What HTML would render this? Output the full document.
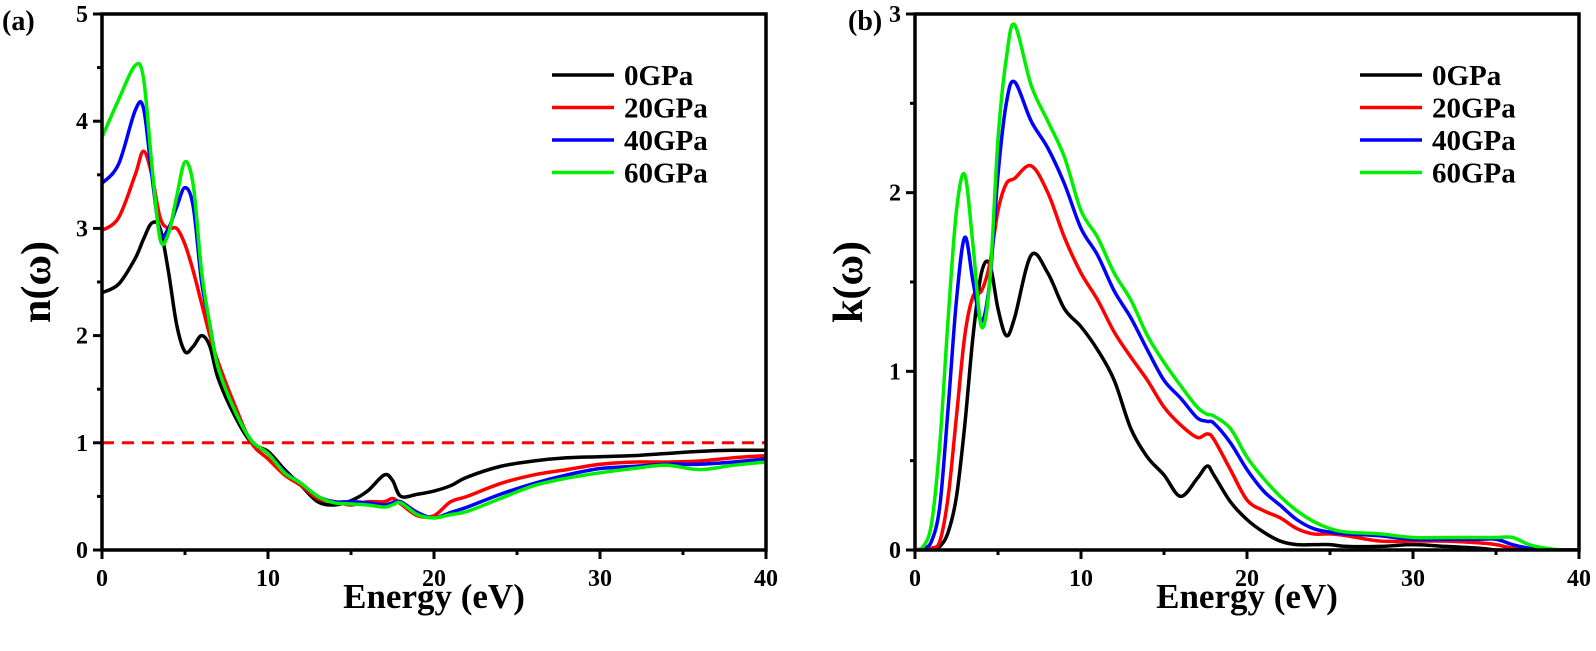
<!DOCTYPE html>
<html><head><meta charset="utf-8"><style>
html,body{margin:0;padding:0;background:#fff;}
svg text{font-family:"Liberation Serif",serif;font-weight:bold;fill:#000;}
</style></head><body>
<svg id="fig" width="1596" height="646" xmlns="http://www.w3.org/2000/svg"></svg>
<script>
const energyA=[0,1,2,2.5,3,3.5,4,4.5,5,5.5,6,6.5,7,8,9,10,11,12,13,14,15,16,17,17.5,18,19,20,21,22,24,26,28,30,32,34,36,38,40];
const n0=[2.4,2.48,2.72,2.9,3.05,3.0,2.6,2.1,1.85,1.9,2.0,1.9,1.6,1.25,1.0,0.92,0.75,0.6,0.45,0.42,0.46,0.55,0.7,0.65,0.5,0.52,0.55,0.6,0.68,0.78,0.83,0.86,0.87,0.88,0.9,0.92,0.93,0.93];
const n20=[2.98,3.1,3.5,3.72,3.5,3.1,3.0,3.0,2.85,2.6,2.3,2.0,1.75,1.35,1.0,0.85,0.7,0.6,0.48,0.45,0.42,0.45,0.45,0.48,0.43,0.32,0.32,0.45,0.5,0.62,0.7,0.75,0.8,0.82,0.82,0.83,0.86,0.88];
const n40=[3.42,3.6,4.1,4.12,3.5,2.95,3.0,3.2,3.38,3.2,2.5,2.1,1.7,1.3,1.02,0.9,0.73,0.62,0.5,0.45,0.45,0.44,0.42,0.44,0.45,0.35,0.3,0.35,0.4,0.52,0.62,0.7,0.76,0.78,0.8,0.8,0.82,0.85];
const n60=[3.85,4.2,4.52,4.4,3.6,2.9,2.95,3.3,3.62,3.4,2.6,2.1,1.7,1.3,1.02,0.9,0.72,0.62,0.5,0.44,0.43,0.42,0.4,0.42,0.44,0.33,0.3,0.33,0.36,0.48,0.6,0.67,0.72,0.76,0.79,0.75,0.79,0.82];
const energyB=[0,0.5,1,1.5,2,2.5,3,3.5,4,4.5,5,5.5,6,7,8,9,10,11,12,13,14,15,16,17,17.6,18,19,20,21,22,23,24,25,26,28,30,32,34,35,36,37,38,39,40];
const k0=[0,0,0,0.02,0.1,0.3,0.7,1.2,1.55,1.6,1.35,1.2,1.3,1.65,1.55,1.35,1.25,1.12,0.95,0.68,0.52,0.42,0.3,0.4,0.47,0.42,0.27,0.17,0.1,0.05,0.03,0.03,0.03,0.02,0.02,0.03,0.02,0.01,0,0,0,0,0,0];
const k20=[0,0,0.01,0.05,0.3,0.75,1.2,1.42,1.45,1.6,1.9,2.05,2.08,2.15,2.0,1.75,1.55,1.4,1.22,1.08,0.95,0.8,0.7,0.63,0.65,0.62,0.45,0.28,0.22,0.18,0.12,0.09,0.09,0.08,0.05,0.05,0.05,0.04,0.03,0.01,0,0,0,0];
const k40=[0,0.01,0.05,0.25,0.8,1.4,1.75,1.5,1.28,1.5,2.1,2.5,2.62,2.4,2.25,2.05,1.8,1.65,1.45,1.3,1.12,0.95,0.85,0.74,0.72,0.71,0.6,0.45,0.33,0.25,0.17,0.12,0.1,0.09,0.08,0.06,0.06,0.06,0.06,0.03,0.01,0,0,0];
const k60=[0,0.02,0.15,0.6,1.3,1.9,2.1,1.7,1.25,1.5,2.3,2.75,2.94,2.6,2.4,2.2,1.9,1.75,1.55,1.4,1.2,1.05,0.92,0.8,0.76,0.75,0.68,0.52,0.4,0.3,0.22,0.16,0.12,0.1,0.09,0.07,0.07,0.07,0.07,0.07,0.03,0.01,0,0];
const xTicks=[0,10,20,30,40];
const yTicksA=[0,1,2,3,4,5];
const yTicksB=[0,1,2,3];
const legendLabels=["0GPa","20GPa","40GPa","60GPa"];
const colors=["#000000","#ff0000","#0000ff","#00ee00"];

const NS="http://www.w3.org/2000/svg";
const svg=document.getElementById('fig');
function mk(tag,attrs,parent){const e=document.createElementNS(NS,tag);for(const k in attrs)e.setAttribute(k,attrs[k]);(parent||svg).appendChild(e);return e;}
function smooth(pts){let d='M'+pts[0][0]+','+pts[0][1];for(let i=0;i<pts.length-1;i++){const p0=pts[Math.max(0,i-1)],p1=pts[i],p2=pts[i+1],p3=pts[Math.min(pts.length-1,i+2)];const c1x=p1[0]+(p2[0]-p0[0])/6,c1y=p1[1]+(p2[1]-p0[1])/6,c2x=p2[0]-(p3[0]-p1[0])/6,c2y=p2[1]-(p3[1]-p1[1])/6;d+=' C'+c1x+','+c1y+' '+c2x+','+c2y+' '+p2[0]+','+p2[1];}return d;}

function panel(o){
  const g=mk('g',{});
  
  
  const X=v=>o.x0+(v-0)/40*(o.x1-o.x0);
  const Y=v=>o.y0-(v/o.ymax)*(o.y0-o.y1);
  const clipId=o.name+'-clip';
  const cp=mk('clipPath',{id:clipId},g);mk('rect',{x:o.x0,y:o.y1,width:o.x1-o.x0,height:o.y0-o.y1},cp);
  for(let v=0;v<=40;v+=5){const major=v%10===0;const t=mk('line',{x1:X(v),x2:X(v),y1:o.y0,y2:o.y0+(major?9:5),stroke:'#000','stroke-width':3},g);
    }
  xTicks.forEach(v=>{const t=mk('text',{x:X(v),y:o.y0+36,'text-anchor':'middle','font-size':24},g);t.textContent=v;
    });
  for(let v=0;v<=o.ymax+1e-9;v+=0.5){const major=Math.abs(v-Math.round(v))<1e-9;const t=mk('line',{x1:o.x0,x2:o.x0-(major?9:5),y1:Y(v),y2:Y(v),stroke:'#000','stroke-width':3},g);
    }
  o.yTicks.forEach(v=>{const t=mk('text',{x:o.x0-14,y:Y(v)+8,'text-anchor':'end','font-size':24},g);t.textContent=v;
    });
  if(o.dash){const d=mk('line',{x1:X(0),x2:X(40),y1:Y(1),y2:Y(1),stroke:'#ff0000','stroke-width':3,'stroke-dasharray':'12,8'},g);
    }
  const lg=mk('g',{'clip-path':'url(#'+clipId+')'},g);
  o.series.forEach((s,i)=>{const pts=o.xs.map((x,j)=>[X(x),Y(s[j])]);const p=mk('path',{d:smooth(pts),fill:'none',stroke:colors[i],'stroke-width':3.5,'stroke-linejoin':'round'},lg);
    });
  const f=mk('rect',{x:o.x0,y:o.y1,width:o.x1-o.x0,height:o.y0-o.y1,fill:'none',stroke:'#000','stroke-width':3.5},g);
  
  const xt=mk('text',{x:(o.x0+o.x1)/2,y:o.y0+58,'text-anchor':'middle','font-size':35},g);xt.textContent='Energy (eV)';
  
  const yt=mk('text',{x:0,y:0,'text-anchor':'middle','font-size':42,transform:'translate('+o.ytx+','+((o.y0+o.y1)/2)+') rotate(-90)'},g);yt.textContent=o.ylabel;
  
  const pl=mk('text',{x:o.plx,y:30,'font-size':28},g);pl.textContent=o.panelLabel;
  
  const leg=mk('g',{},g);
  legendLabels.forEach((l,i)=>{const y=o.legY+i*32.5;
    const e=mk('g',{},leg);
    mk('line',{x1:o.legX,x2:o.legX+62,y1:y,y2:y,stroke:colors[i],'stroke-width':3.5},e);
    const t=mk('text',{x:o.legX+72,y:y+10,'font-size':29},e);t.textContent=l;});
}
panel({name:'panel-a-refractive-index',x0:102,x1:766,y0:550,y1:14,ymax:5,yTicks:yTicksA,xs:energyA,series:[n0,n20,n40,n60],dash:true,ylabel:'n(ω)',ytx:50,panelLabel:'(a)',plx:2,legX:552,legY:75});
panel({name:'panel-b-extinction-coefficient',x0:915,x1:1579,y0:550,y1:14,ymax:3,yTicks:yTicksB,xs:energyB,series:[k0,k20,k40,k60],dash:false,ylabel:'k(ω)',ytx:862,panelLabel:'(b)',plx:848,legX:1360,legY:75});
</script>
</body></html>
